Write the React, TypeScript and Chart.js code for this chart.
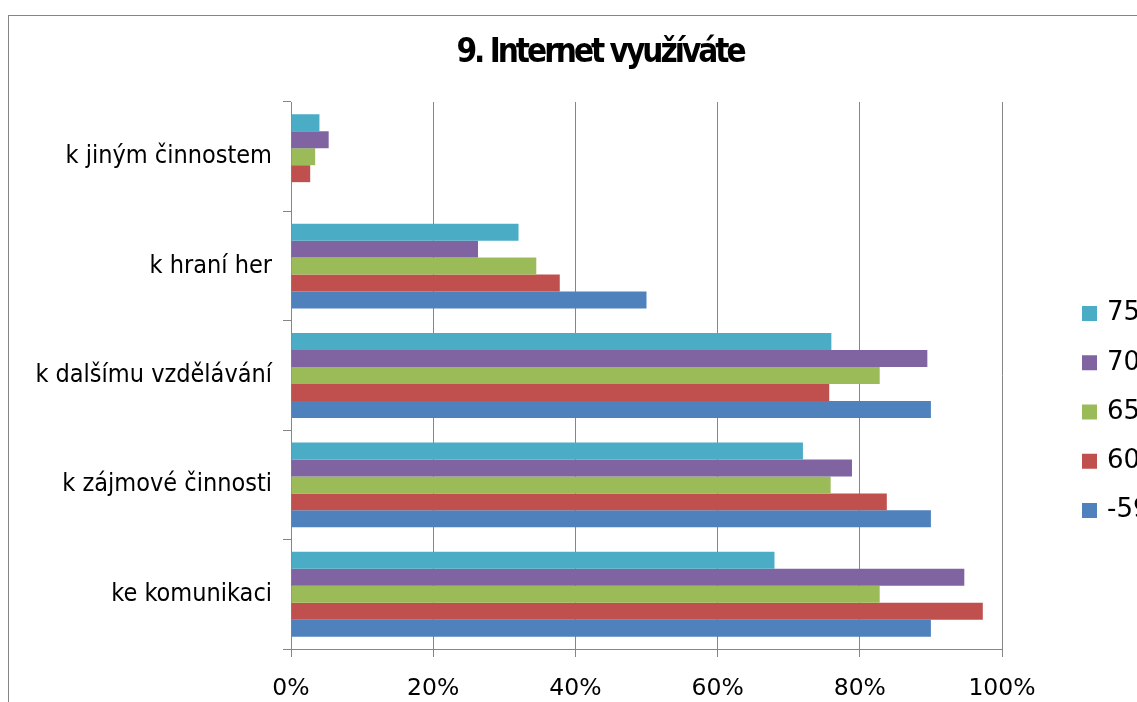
import React, { useEffect, useRef } from "react";
import { Chart, registerables } from "chart.js";

Chart.register(...registerables);

// Categories, listed top to bottom as they appear on the axis
const categories = [
  "k jiným činnostem",
  "k hraní her",
  "k dalšímu vzdělávání",
  "k zájmové činnosti",
  "ke komunikaci",
];

// Share of respondents per age group (percent), same order as categories
const age75 = [4.0, 32.0, 76.0, 72.0, 68.0];
const age70 = [5.3, 26.3, 89.5, 78.9, 94.7];
const age65 = [3.4, 34.5, 82.8, 75.9, 82.8];
const age60 = [2.7, 37.8, 75.7, 83.8, 97.3];
const ageTo59 = [0, 50.0, 90.0, 90.0, 90.0];

// Series names and colours, in top-to-bottom order inside each group
const seriesNames = ["75", "70", "65", "60", "-59"];
const seriesColors = ["#4BACC6", "#8064A2", "#9BBB59", "#C0504D", "#4F81BD"];
const seriesValues = [age75, age70, age65, age60, ageTo59];

// Value axis tick labels
const tickLabels = ["0%", "20%", "40%", "60%", "80%", "100%"];

const chartTitle = "9. Internet využíváte";

const CANVAS_W = 1182;
const CANVAS_H = 792;
const GRID = "#868686";
const CONDENSED = "'DejaVu Sans Condensed', 'DejaVu Sans', sans-serif";
const SANS = "'DejaVu Sans', sans-serif";

// Title centred on the full canvas width, set tight like the source font
const centredTitle = {
  id: "centredTitle",
  afterDraw(chart: any) {
    const ctx = chart.ctx;
    ctx.save();
    ctx.font = `bold 33px ${CONDENSED}`;
    (ctx as any).letterSpacing = "-3px";
    ctx.fillStyle = "#000";
    ctx.textAlign = "center";
    ctx.textBaseline = "alphabetic";
    ctx.fillText(chartTitle, chart.width / 2, 46);
    ctx.restore();
  },
};

// Legend drawn at the right-hand side, vertically centred on the canvas
const sideLegend = {
  id: "sideLegend",
  afterDraw(chart: any) {
    const ctx = chart.ctx;
    const box = 15;
    const step = 49.25;
    const x0 = chart.width - 109;
    const n = chart.data.datasets.length;
    ctx.save();
    ctx.font = `26px ${SANS}`;
    ctx.textBaseline = "middle";
    ctx.textAlign = "left";
    chart.data.datasets.forEach((ds: any, i: number) => {
      const y = chart.height / 2 + (i - (n - 1) / 2) * step;
      ctx.fillStyle = ds.backgroundColor;
      ctx.fillRect(x0, y - box / 2, box, box);
      ctx.fillStyle = "#000";
      ctx.fillText(ds.label, x0 + 25, y);
    });
    ctx.restore();
  },
};

export default function App() {
  const canvasRef = useRef<HTMLCanvasElement | null>(null);

  useEffect(() => {
    const canvas = canvasRef.current;
    if (!canvas) return;
    const chart = new Chart(canvas, {
      type: "bar",
      data: {
        labels: categories,
        datasets: seriesNames.map((name, i) => ({
          label: name,
          data: seriesValues[i],
          backgroundColor: seriesColors[i],
          borderWidth: 0,
          categoryPercentage: 0.776,
          barPercentage: 1.0,
        })),
      },
      options: {
        indexAxis: "y",
        responsive: false,
        animation: false,
        devicePixelRatio: 1,
        layout: { padding: { top: 86, left: 0, right: 189, bottom: 99 } },
        plugins: {
          legend: { display: false },
          tooltip: { enabled: false },
          title: { display: false },
        },
        scales: {
          x: {
            min: 0,
            max: 100,
            ticks: {
              stepSize: 20,
              color: "#000",
              padding: 18,
              font: { family: SANS, size: 23.5 },
              callback: (_v: any, idx: number) => tickLabels[idx],
            },
            grid: {
              color: GRID,
              lineWidth: 1,
              drawTicks: true,
              tickLength: 8,
            },
            border: { display: true, color: GRID, width: 1 },
            afterFit: (scale: any) => {
              scale.height = 60;
            },
          },
          y: {
            ticks: {
              color: "#000",
              padding: 11,
              font: { family: CONDENSED, size: 25 },
            },
            grid: {
              offset: true,
              drawOnChartArea: false,
              drawTicks: true,
              tickLength: 8,
              color: GRID,
            },
            border: { display: true, color: GRID, width: 1 },
            afterFit: (scale: any) => {
              scale.width = 282;
            },
          },
        },
      },
      plugins: [centredTitle, sideLegend],
    });
    return () => chart.destroy();
  }, []);

  return (
    <div
      style={{
        position: "fixed",
        left: 0,
        top: 0,
        width: 1137,
        height: 702,
        overflow: "hidden",
        background: "#fff",
      }}
    >
      <div
        style={{
          position: "absolute",
          left: 8,
          top: 15,
          width: CANVAS_W,
          height: CANVAS_H,
          border: `1px solid ${GRID}`,
        }}
      >
        <canvas
          ref={canvasRef}
          width={CANVAS_W}
          height={CANVAS_H}
          style={{ display: "block", width: CANVAS_W, height: CANVAS_H }}
        />
      </div>
    </div>
  );
}
